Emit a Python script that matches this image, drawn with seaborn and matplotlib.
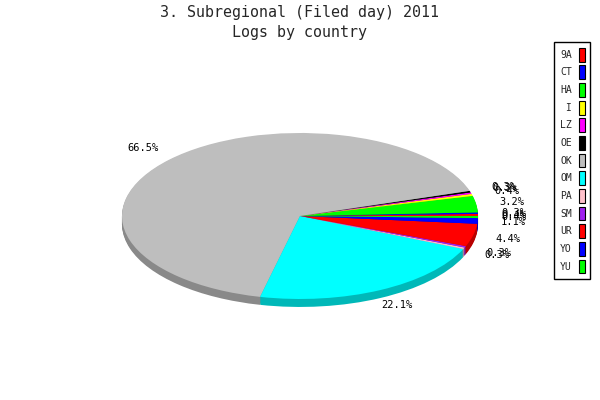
import numpy as np
import matplotlib
matplotlib.use("Agg")
import matplotlib.pyplot as plt
import matplotlib.colors as mcolors
from matplotlib.patches import Patch
import seaborn as sns


countries = ["9A", "CT", "HA", "I", "LZ", "OE", "OK", "OM", "PA", "SM", "UR", "YO", "YU"]
logs = [8, 6, 64, 8, 6, 6, 1330, 442, 6, 6, 88, 22, 8]
colors = ["#ff0000", "#0000ff", "#00ff00", "#ffff00", "#ff00ff", "#000000", "#bebebe",
          "#00ffff", "#ffc0cb", "#a020f0", "#ff0000", "#0000ff", "#00ff00"]

sns.set_theme(style="white")
plt.rcParams["font.family"] = ["DejaVu Sans Mono"]

fig = plt.figure(figsize=(6, 4), dpi=100)
ax = fig.add_axes([0, 0, 1, 1])

# side of the "3d" pie: darker copies stacked under the top face
side = [tuple(c * 0.72 for c in mcolors.to_rgb(col)) for col in colors]
depth = 0.096
for off in np.linspace(depth, 0.01, 8):
    ax.pie(logs, colors=side, startangle=0, counterclock=True, center=(0, -off),
           wedgeprops=dict(linewidth=0))

ax.pie(logs, colors=colors, startangle=0, counterclock=True,
       autopct="%.1f%%", pctdistance=1.2,
       wedgeprops=dict(linewidth=0),
       textprops=dict(fontsize=7.5, family="DejaVu Sans Mono", color="black"))
ax.set_aspect("auto")
ax.set_xlim(-1.685, 1.685)
ax.set_ylim(-2.217, 2.602)
ax.set_axis_off()

fig.text(0.5, 1 - 13 / 400, "3. Subregional (Filed day) 2011", ha="center", va="center", fontsize=10.8)
fig.text(0.5, 1 - 32 / 400, "Logs by country", ha="center", va="center", fontsize=10.8)

handles = [Patch(facecolor=c, edgecolor="black", linewidth=0.8) for c in colors]
labels = [c.rjust(2) for c in countries]
leg = fig.legend(handles, labels, loc="upper right", bbox_to_anchor=(0.984, 0.895),
                 borderaxespad=0, markerfirst=False, handlelength=0.6, handleheight=1.8,
                 handletextpad=0.7, labelspacing=0.4, borderpad=0.6, fancybox=False,
                 edgecolor="black", framealpha=1, fontsize=7, frameon=True)
leg.get_frame().set_linewidth(1)

fig.savefig("out.png", dpi=100)
